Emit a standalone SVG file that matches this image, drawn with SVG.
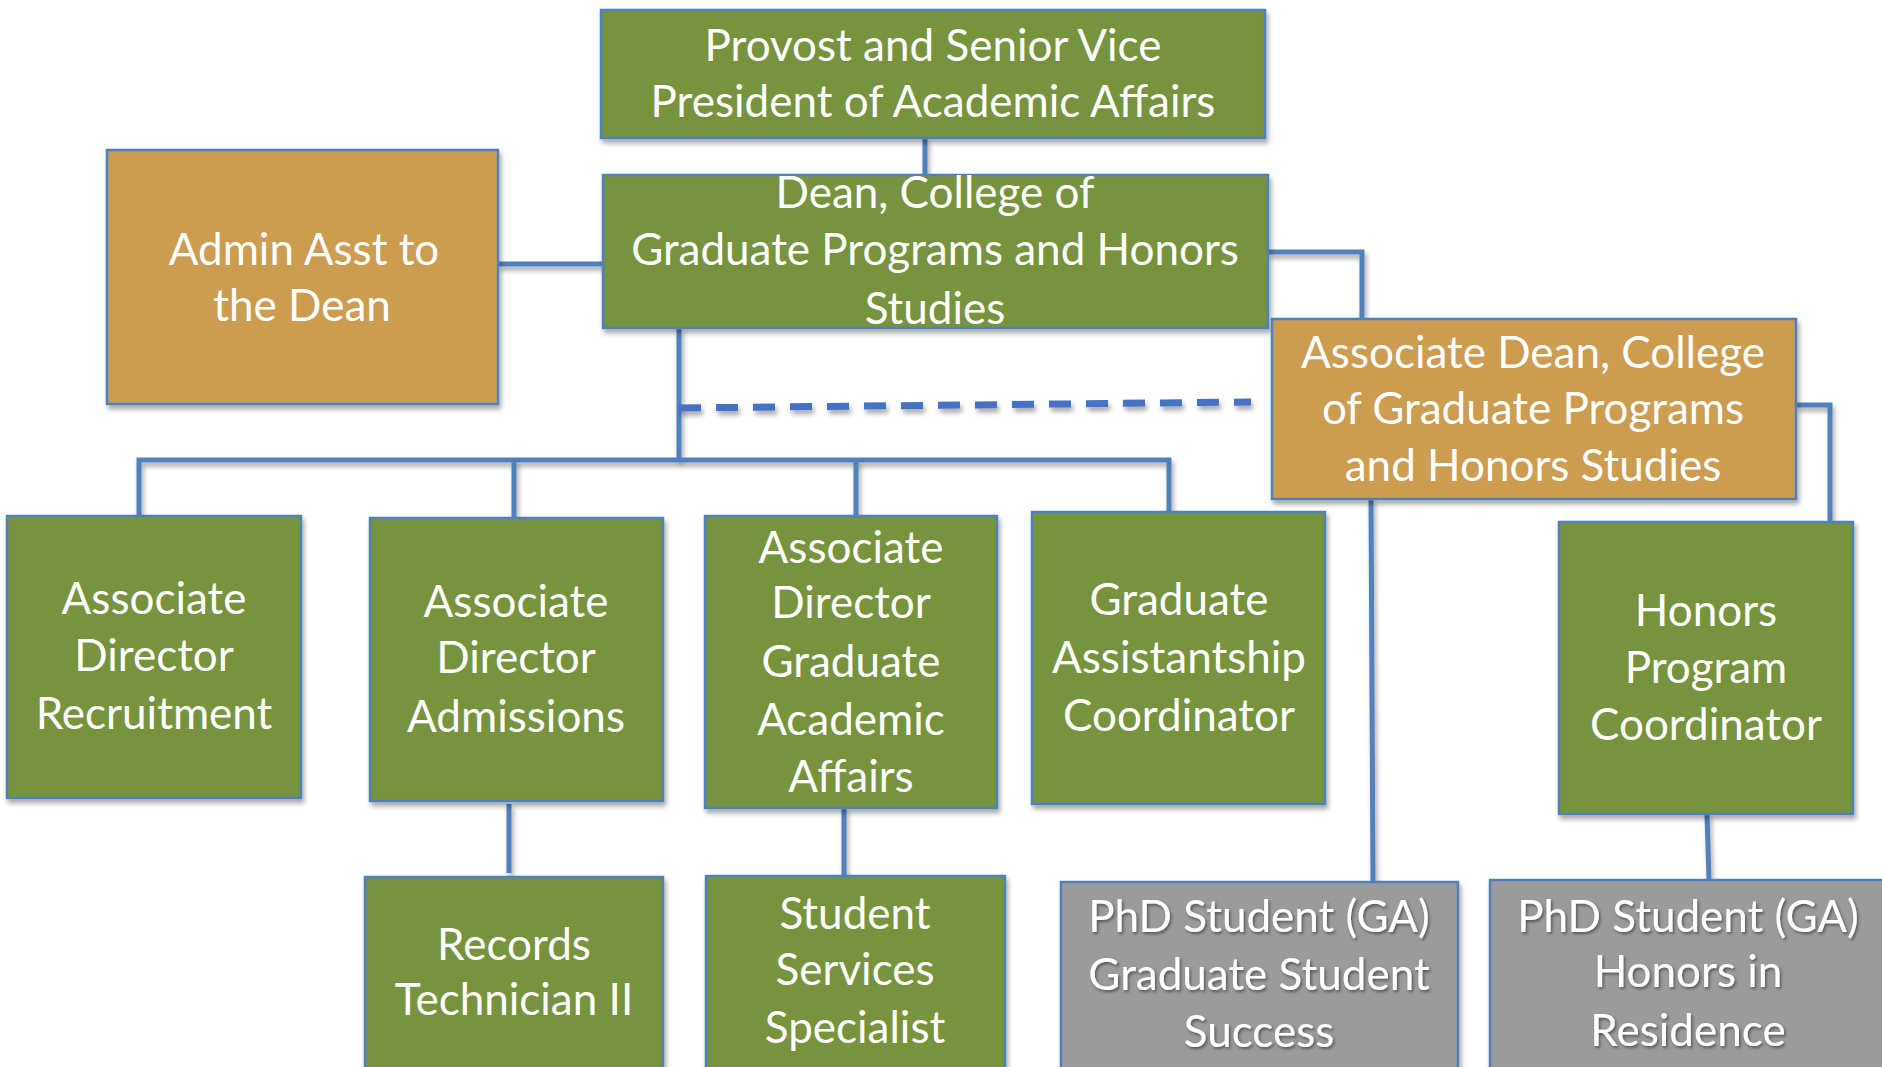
<svg xmlns="http://www.w3.org/2000/svg" width="1882" height="1067" viewBox="0 0 1882 1067">
  <defs>
    <filter id="shadow" filterUnits="userSpaceOnUse" x="0" y="0" width="1882" height="1067">
      <feDropShadow dx="2" dy="4" stdDeviation="2.5" flood-color="#000" flood-opacity="0.35"/>
    </filter>
    <filter id="txtshadow" filterUnits="userSpaceOnUse" x="0" y="0" width="1882" height="1067">
      <feDropShadow dx="1.5" dy="2" stdDeviation="1.5" flood-color="#000" flood-opacity="0.45"/>
    </filter>
  </defs>
  <style>
    .box { stroke: #4F81BD; stroke-width: 2.5; filter: url(#shadow); }
    .green { fill: #77933C; }
    .gold { fill: #CC9C51; }
    .grey { fill: #9B9B9B; }
    .lbl { font-family: Lato, "Open Sans", sans-serif; font-size: 44px; fill: #FFFFFF; text-anchor: middle; }
    .grey-lbl { filter: url(#txtshadow); }
    .line { stroke: #4F81BD; stroke-width: 5; fill: none; filter: url(#shadow); }
    .dash { stroke: #4472C4; stroke-width: 7; fill: none; stroke-dasharray: 22 15; filter: url(#shadow); }
  </style>

  <rect width="1882" height="1067" fill="#FFFFFF"/>

  <!-- reporting lines -->
  <g id="connectors">
    <path class="line" d="M925,138 V175"/>
    <path class="line" d="M498,264 H603"/>
    <path class="line" d="M1268,252 H1362 V319"/>
    <path class="line" d="M679,328 V460"/>
    <path class="line" d="M139,516 V460 H1169 V512"/>
    <path class="line" d="M514,460 V518"/>
    <path class="line" d="M856,460 V516"/>
    <path class="line" d="M509,804 V873"/>
    <path class="line" d="M844,808 V876"/>
    <path class="line" d="M1796,405 H1830 V522"/>
    <path class="line" d="M1371,499 L1373,882"/>
    <path class="line" d="M1707,814 L1709,880"/>
    <path class="dash" d="M679,408 L1251,402"/>
  </g>

  <g id="provost">
    <rect class="box green" x="601" y="10" width="664" height="128"/>
    <text class="lbl" x="933" y="61">Provost and Senior Vice</text>
    <text class="lbl" x="933" y="117">President of Academic Affairs</text>
  </g>

  <g id="dean">
    <rect class="box green" x="603" y="175" width="665" height="153"/>
    <text class="lbl" x="935" y="208">Dean, College of</text>
    <text class="lbl" x="935" y="265">Graduate Programs and Honors</text>
    <text class="lbl" x="935" y="324">Studies</text>
  </g>

  <g id="admin-asst">
    <rect class="box gold" x="107" y="150" width="391" height="254"/>
    <text class="lbl" x="304" y="265">Admin Asst to</text>
    <text class="lbl" x="302" y="321">the Dean</text>
  </g>

  <g id="associate-dean">
    <rect class="box gold" x="1272" y="319" width="524" height="180"/>
    <text class="lbl" x="1533" y="368">Associate Dean, College</text>
    <text class="lbl" x="1533" y="424">of Graduate Programs</text>
    <text class="lbl" x="1533" y="481">and Honors Studies</text>
  </g>

  <g id="ad-recruitment">
    <rect class="box green" x="7" y="516" width="294" height="282"/>
    <text class="lbl" x="154" y="614">Associate</text>
    <text class="lbl" x="154" y="671">Director</text>
    <text class="lbl" x="154" y="729">Recruitment</text>
  </g>

  <g id="ad-admissions">
    <rect class="box green" x="370" y="518" width="293" height="283"/>
    <text class="lbl" x="516" y="617">Associate</text>
    <text class="lbl" x="516" y="673">Director</text>
    <text class="lbl" x="516" y="732">Admissions</text>
  </g>

  <g id="ad-academic-affairs">
    <rect class="box green" x="705" y="516" width="292" height="292"/>
    <text class="lbl" x="851" y="563">Associate</text>
    <text class="lbl" x="851" y="618">Director</text>
    <text class="lbl" x="851" y="677">Graduate</text>
    <text class="lbl" x="851" y="735">Academic</text>
    <text class="lbl" x="851" y="792">Affairs</text>
  </g>

  <g id="ga-coordinator">
    <rect class="box green" x="1032" y="512" width="293" height="292"/>
    <text class="lbl" x="1179" y="615">Graduate</text>
    <text class="lbl" x="1179" y="673">Assistantship</text>
    <text class="lbl" x="1179" y="731">Coordinator</text>
  </g>

  <g id="honors-coordinator">
    <rect class="box green" x="1559" y="522" width="294" height="292"/>
    <text class="lbl" x="1706" y="626">Honors</text>
    <text class="lbl" x="1706" y="683">Program</text>
    <text class="lbl" x="1706" y="740">Coordinator</text>
  </g>

  <g id="records-technician">
    <rect class="box green" x="365" y="877" width="298" height="200"/>
    <text class="lbl" x="514" y="960">Records</text>
    <text class="lbl" x="514" y="1015">Technician II</text>
  </g>

  <g id="student-services">
    <rect class="box green" x="706" y="876" width="299" height="200"/>
    <text class="lbl" x="855" y="929">Student</text>
    <text class="lbl" x="855" y="985">Services</text>
    <text class="lbl" x="855" y="1043">Specialist</text>
  </g>

  <g id="phd-student-success">
    <rect class="box grey" x="1061" y="882" width="397" height="200"/>
    <text class="lbl grey-lbl" x="1259" y="932">PhD Student (GA)</text>
    <text class="lbl grey-lbl" x="1259" y="990">Graduate Student</text>
    <text class="lbl grey-lbl" x="1259" y="1047">Success</text>
  </g>

  <g id="phd-honors-residence">
    <rect class="box grey" x="1490" y="880" width="400" height="200"/>
    <text class="lbl grey-lbl" x="1688" y="932">PhD Student (GA)</text>
    <text class="lbl grey-lbl" x="1688" y="987">Honors in</text>
    <text class="lbl grey-lbl" x="1688" y="1046">Residence</text>
  </g>
</svg>
